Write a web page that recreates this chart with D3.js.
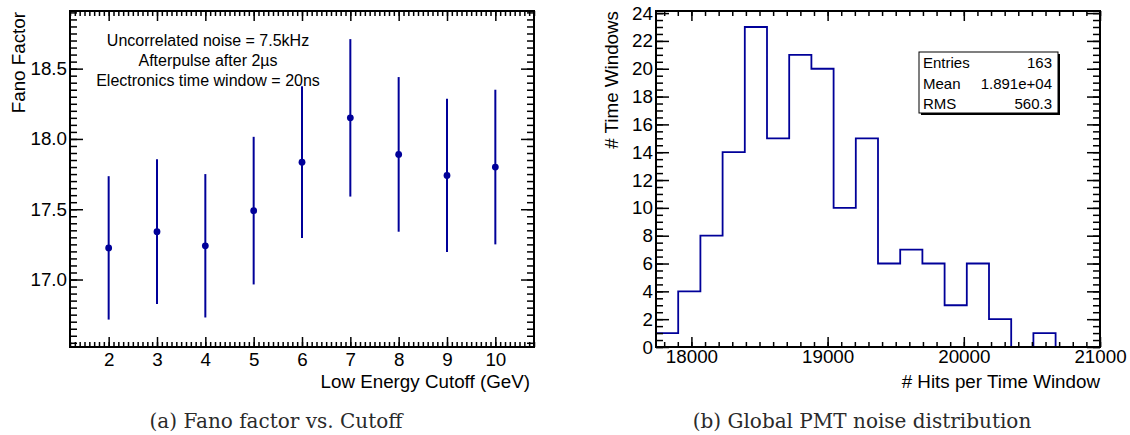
<!DOCTYPE html>
<html>
<head>
<meta charset="utf-8">
<script src="https://cdn.jsdelivr.net/npm/d3@7"></script>
<style>
  body { margin: 0; background: #fff; }
  svg text { font-family: "Liberation Sans", Arial, Helvetica, sans-serif; }
  .caption { font-family: "DejaVu Serif", serif !important; fill: #2a2a2a; }
</style>
</head>
<body>
<div id="chart"></div>
<script>
// ---- data: Fano factor vs low energy cutoff
var cutoffs = [2, 3, 4, 5, 6, 7, 8, 9, 10];
var fanoValues = [17.225, 17.34, 17.24, 17.49, 17.835, 18.15, 17.89, 17.74, 17.80];
var fanoErrors = [0.51, 0.515, 0.51, 0.525, 0.54, 0.56, 0.55, 0.545, 0.55];
var fanoXTicks = [2, 3, 4, 5, 6, 7, 8, 9, 10];
var fanoYTicks = [17.0, 17.5, 18.0, 18.5];
var fanoNotes = ["Uncorrelated noise = 7.5kHz", "Afterpulse after 2\u00b5s", "Electronics time window = 20ns"];

// ---- data: global PMT noise histogram
var binEdges = [17740, 17903, 18066, 18229, 18392, 18555, 18718, 18881, 19044, 19207, 19370,
                19533, 19696, 19859, 20022, 20185, 20348, 20511, 20674, 20837, 21000];
var binCounts = [1, 4, 8, 14, 23, 15, 21, 20, 10, 15, 6, 7, 6, 3, 6, 2, 0, 1, 0, 0];
var histXTicks = [18000, 19000, 20000, 21000];
var histYTicks = [0, 2, 4, 6, 8, 10, 12, 14, 16, 18, 20, 22, 24];
var statLabels = ["Entries", "Mean", "RMS"];
var statValues = ["163", "1.891e+04", "560.3"];

var dataColor = "#000099";

var svg = d3.select("#chart").append("svg")
    .attr("width", 1130)
    .attr("height", 435);

// draws ROOT style inside ticks on all four sides of a frame
function drawFrameAxes(g, x, y, xMajor, xMinor, yMajor, yMinor, xFmt, yFmt, xPad) {
    var x0 = x.range()[0], x1 = x.range()[1];
    var y0 = y.range()[0], y1 = y.range()[1];

    function styleAxis(sel) {
        sel.select(".domain").remove();
        sel.selectAll("line").attr("stroke", "#000").attr("stroke-width", 1.5);
        sel.selectAll("text").style("font-size", "18.8px").attr("fill", "#000");
    }

    g.append("g").attr("transform", "translate(0," + y0 + ")")
        .call(d3.axisBottom(x).tickValues(xMinor).tickSize(-5).tickFormat(""))
        .call(styleAxis);
    g.append("g").attr("transform", "translate(0," + y0 + ")")
        .call(d3.axisBottom(x).tickValues(xMajor).tickSize(-10).tickPadding(xPad).tickFormat(xFmt))
        .call(styleAxis);
    g.append("g").attr("transform", "translate(0," + y1 + ")")
        .call(d3.axisTop(x).tickValues(xMinor).tickSize(-5).tickFormat(""))
        .call(styleAxis);
    g.append("g").attr("transform", "translate(0," + y1 + ")")
        .call(d3.axisTop(x).tickValues(xMajor).tickSize(-10).tickFormat(""))
        .call(styleAxis);

    g.append("g").attr("transform", "translate(" + x0 + ",0)")
        .call(d3.axisLeft(y).tickValues(yMinor).tickSize(-7).tickFormat(""))
        .call(styleAxis);
    g.append("g").attr("transform", "translate(" + x0 + ",0)")
        .call(d3.axisLeft(y).tickValues(yMajor).tickSize(-13).tickPadding(3).tickFormat(yFmt))
        .call(styleAxis);
    g.append("g").attr("transform", "translate(" + x1 + ",0)")
        .call(d3.axisRight(y).tickValues(yMinor).tickSize(-7).tickFormat(""))
        .call(styleAxis);
    g.append("g").attr("transform", "translate(" + x1 + ",0)")
        .call(d3.axisRight(y).tickValues(yMajor).tickSize(-13).tickFormat(""))
        .call(styleAxis);

    g.append("rect")
        .attr("x", x0).attr("y", y1)
        .attr("width", x1 - x0).attr("height", y0 - y1)
        .attr("fill", "none")
        .attr("stroke", "#000")
        .attr("stroke-width", 2);
}

function inDomain(scale) {
    var dom = scale.domain();
    return function(v) { return v >= dom[0] - 1e-9 && v <= dom[1] + 1e-9; };
}

// ---------------- left panel ----------------
var fano = svg.append("g");
var xF = d3.scaleLinear().domain([1.2, 10.8]).range([70, 534]);
var yF = d3.scaleLinear().domain([16.52, 18.91]).range([347, 11]);

var xFMinor = d3.range(12, 109).map(function(d) { return d / 10; }).filter(inDomain(xF));
var yFMinor = d3.range(331, 379).map(function(d) { return d / 20; }).filter(inDomain(yF));

drawFrameAxes(fano, xF, yF, fanoXTicks, xFMinor, fanoYTicks, yFMinor,
    d3.format("d"), d3.format(".1f"), 6);

fano.selectAll(".errbar").data(cutoffs)
    .enter().append("line")
    .attr("class", "errbar")
    .attr("x1", function(d) { return xF(d); })
    .attr("x2", function(d) { return xF(d); })
    .attr("y1", function(d, i) { return yF(fanoValues[i] - fanoErrors[i]); })
    .attr("y2", function(d, i) { return yF(fanoValues[i] + fanoErrors[i]); })
    .attr("stroke", dataColor)
    .attr("stroke-width", 2);

fano.selectAll(".pt").data(cutoffs)
    .enter().append("circle")
    .attr("class", "pt")
    .attr("cx", function(d) { return xF(d); })
    .attr("cy", function(d, i) { return yF(fanoValues[i]); })
    .attr("r", 3.4)
    .attr("fill", dataColor);

fano.selectAll(".note").data(fanoNotes)
    .enter().append("text")
    .attr("class", "note")
    .attr("x", 208)
    .attr("y", function(d, i) { return 46 + i * 20; })
    .attr("text-anchor", "middle")
    .style("font-size", "16px")
    .text(function(d) { return d; });

fano.append("text")
    .attr("transform", "translate(25,12) rotate(-90)")
    .attr("text-anchor", "end")
    .style("font-size", "18.8px")
    .text("Fano Factor");

fano.append("text")
    .attr("x", 530)
    .attr("y", 388)
    .attr("text-anchor", "end")
    .style("font-size", "18.8px")
    .text("Low Energy Cutoff (GeV)");

// ---------------- right panel ----------------
var hist = svg.append("g");
var xH = d3.scaleLinear().domain([17740, 21000]).range([656, 1100]);
var yH = d3.scaleLinear().domain([0, 24.15]).range([347, 11]);

var xHMinor = d3.range(178, 211).map(function(d) { return d * 100; }).filter(inDomain(xH));
var yHMinor = d3.range(0, 49).map(function(d) { return d / 2; }).filter(inDomain(yH));

var stepPts = binCounts.map(function(c, i) { return [binEdges[i], c]; });
stepPts.push([binEdges[binEdges.length - 1], binCounts[binCounts.length - 1]]);

var stepLine = d3.line()
    .x(function(d) { return xH(d[0]); })
    .y(function(d) { return yH(d[1]); })
    .curve(d3.curveStepAfter);

hist.append("path")
    .datum(stepPts)
    .attr("d", stepLine)
    .attr("fill", "none")
    .attr("stroke", dataColor)
    .attr("stroke-width", 1.8);

drawFrameAxes(hist, xH, yH, histXTicks, xHMinor, histYTicks, yHMinor,
    d3.format("d"), d3.format("d"), 3);

// stats box
var box = hist.append("g").attr("transform", "translate(919,52)");
box.append("rect").attr("x", 2).attr("y", 2).attr("width", 139).attr("height", 61).attr("fill", "#000");
box.append("rect").attr("x", 0).attr("y", 0).attr("width", 139).attr("height", 61)
    .attr("fill", "#fff").attr("stroke", "#000").attr("stroke-width", 1);
box.selectAll(".slabel").data(statLabels)
    .enter().append("text")
    .attr("x", 4)
    .attr("y", function(d, i) { return 16 + i * 20.6; })
    .style("font-size", "15px")
    .text(function(d) { return d; });
box.selectAll(".svalue").data(statValues)
    .enter().append("text")
    .attr("x", 133)
    .attr("y", function(d, i) { return 16 + i * 20.6; })
    .attr("text-anchor", "end")
    .style("font-size", "15px")
    .text(function(d) { return d; });

hist.append("text")
    .attr("transform", "translate(618,11) rotate(-90)")
    .attr("text-anchor", "end")
    .style("font-size", "18.8px")
    .text("# Time Windows");

hist.append("text")
    .attr("x", 1100)
    .attr("y", 388)
    .attr("text-anchor", "end")
    .style("font-size", "18.8px")
    .text("# Hits per Time Window");

// ---------------- captions ----------------
svg.append("text").attr("class", "caption")
    .attr("x", 276).attr("y", 428)
    .attr("text-anchor", "middle")
    .style("font-size", "20px")
    .text("(a) Fano factor vs. Cutoff");

svg.append("text").attr("class", "caption")
    .attr("x", 862).attr("y", 428)
    .attr("text-anchor", "middle")
    .style("font-size", "20px")
    .text("(b) Global PMT noise distribution");
</script>
</body>
</html>
